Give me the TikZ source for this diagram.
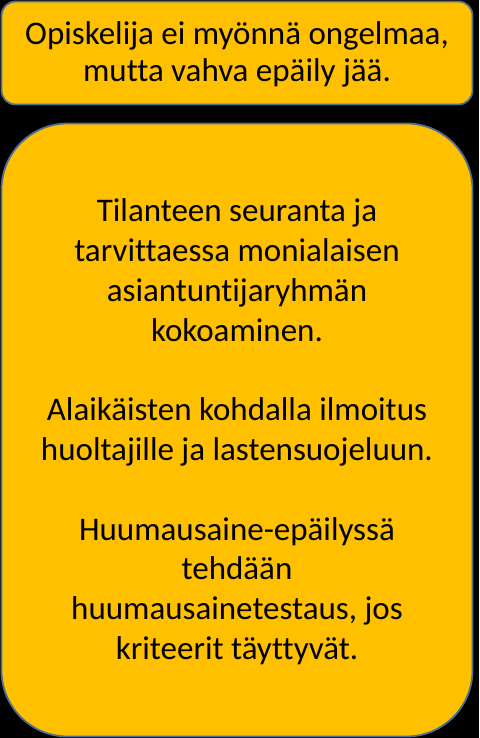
\documentclass[tikz,border=0pt]{standalone}
\usepackage{fontspec}
\setmainfont[Ligatures={NoCommon}]{Carlito}
\definecolor{boxfill}{HTML}{FFC000}
\definecolor{boxline}{HTML}{4A6E96}
\begin{document}
\begin{tikzpicture}[x=1pt,y=-1pt,
  box/.style={draw=boxline, line width=1.8pt, fill=boxfill, align=center, inner sep=0pt}]
\fill[black] (0,0) rectangle (479,738);
\useasboundingbox (0,0) rectangle (479,738);
\node[box, rounded corners=14pt, minimum width=471pt, minimum height=103pt,
  font=\fontsize{33}{37.4}\selectfont] (top) at (237,53)
  {\raisebox{8.7pt}[0pt][0pt]{\begin{tabular}[t]{@{}c@{}}Opiskelija ei myönnä ongelmaa,\\mutta vahva epäily jää.\end{tabular}}};
\node[box, rounded corners=66pt, minimum width=471pt, minimum height=613pt,
  font=\fontsize{33}{39.8}\selectfont] (main) at (237,430)
  {\raisebox{208.3pt}[0pt][0pt]{\begin{tabular}[t]{@{}c@{}}Tilanteen seuranta ja\\tarvittaessa monialaisen\\asiantuntijaryhmän\\kokoaminen.\\[39.8pt]Alaikäisten kohdalla ilmoitus\\huoltajille ja lastensuojeluun.\\[39.8pt]Huumausaine-epäilyssä\\tehdään\\huumausainetestaus, jos\\kriteerit täyttyvät.\end{tabular}}};
\end{tikzpicture}
\end{document}
